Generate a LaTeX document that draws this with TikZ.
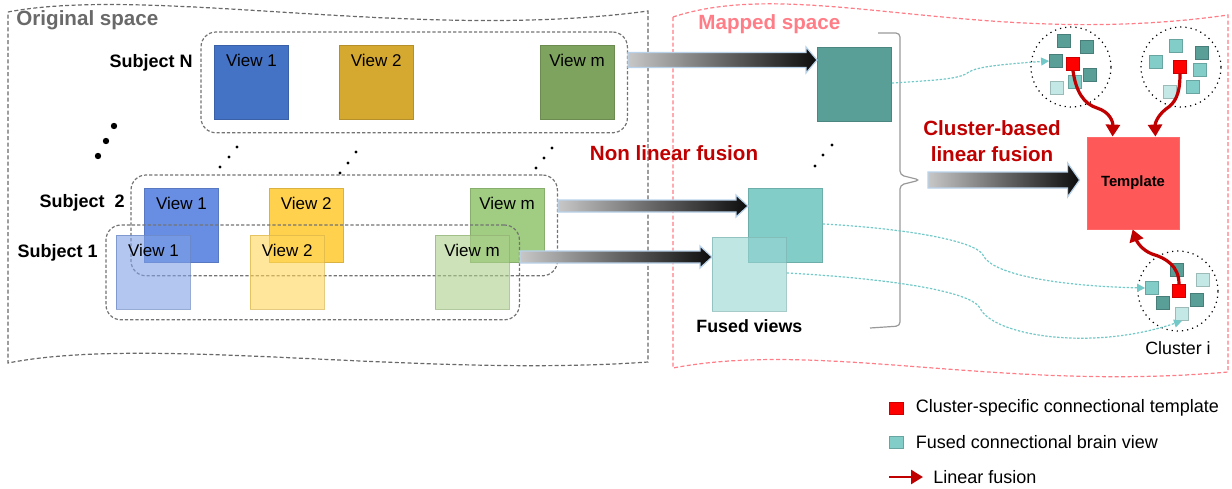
\documentclass[tikz,border=0pt]{standalone}
\usepackage{fontspec}
\setmainfont{Liberation Sans}
\usetikzlibrary{arrows.meta,positioning,fit,calc}
\definecolor{vblue}{RGB}{68,114,196}
\definecolor{vgold}{RGB}{213,168,48}
\definecolor{vgreen}{RGB}{126,163,94}
\definecolor{sblue}{RGB}{104,142,228}
\definecolor{sgold}{RGB}{255,209,77}
\definecolor{sgreen}{RGB}{160,205,130}
\definecolor{lblue}{RGB}{127,160,230}
\definecolor{lgold}{RGB}{255,213,88}
\definecolor{lgreen}{RGB}{172,207,138}
\definecolor{tdark}{RGB}{90,158,152}
\definecolor{tmid}{RGB}{130,205,200}
\definecolor{tlight}{RGB}{195,232,230}
\definecolor{tfuse}{RGB}{150,213,210}
\definecolor{tline}{RGB}{115,200,200}
\definecolor{tmplred}{RGB}{255,88,88}
\definecolor{dred}{RGB}{192,0,0}
\definecolor{mapred}{RGB}{255,125,135}
\definecolor{origgray}{RGB}{105,105,105}
\definecolor{arrline}{RGB}{185,210,235}
% shaded fat arrow: start, tip, half shaft, half head, head length
\newcommand{\garrow}[5]{%
  \shadedraw[garr] ($(#1)+(0,-#3)$) -- ($(#2)+(-#5,-#3)$) -- ($(#2)+(-#5,-#4)$) -- (#2)
    -- ($(#2)+(-#5,#4)$) -- ($(#2)+(-#5,#3)$) -- ($(#1)+(0,#3)$) -- cycle;}

\begin{document}
\begin{tikzpicture}[x=0.5pt, y=-0.5pt, font=\fontsize{8.5}{10}\selectfont,
  view/.style={draw=#1!85!black, fill=#1, minimum size=37pt, inner sep=0pt, anchor=north west},
  lview/.style={view=#1, fill opacity=0.6, draw opacity=0.7},
  vlab/.style={anchor=north, inner sep=0pt, yshift=-4.5pt, text opacity=1},
  grp/.style={draw=black!55, dash pattern=on 1.6pt off 1pt, line width=0.6pt, rounded corners=7.5pt, inner sep=6.5pt},
  subj/.style={font=\fontsize{9}{11}\selectfont\bfseries, anchor=east, inner sep=0pt},
  head/.style={font=\fontsize{10.3}{12}\selectfont\bfseries, inner sep=0pt},
  sq/.style={fill=#1, draw=#1!80!black, line width=0.4pt, minimum size=6.5pt, inner sep=0pt},
  clus/.style={circle, draw, dotted, line width=0.6pt, minimum size=40pt, inner sep=0pt},
  garr/.style={left color=black!22, right color=black!95, middle color=black!60, draw=arrline, line width=0.6pt},
  rarr/.style={draw=dred, line width=1.6pt, -{Triangle[length=6pt,width=7pt]}},
  dline/.style={draw=tline, line width=0.6pt, dash pattern=on 1.2pt off 0.8pt, -{Triangle[length=4pt,width=4pt]}},
  lgtxt/.style={font=\fontsize{9}{11}\selectfont, inner sep=0pt}]
\useasboundingbox (0,0) rectangle (1232,488);

% the two spaces
\draw[origgray, dash pattern=on 2pt off 1.2pt, line width=0.6pt] (8,12) .. controls (150,-15) and (420,42) .. (648,11)
  -- (648,362) .. controls (420,378) and (150,335) .. (8,363) -- cycle;
\draw[mapred, dash pattern=on 2pt off 1.2pt, line width=0.6pt] (673,17) .. controls (800,-25) and (980,50) .. (1228,15)
  -- (1228,372) .. controls (1000,392) and (820,340) .. (673,368) -- cycle;
\node[head, text=origgray, anchor=west] (orig) at (16,20) {Original space};
\node[head, text=mapred, anchor=west] (mapd) at (698,24) {Mapped space};

% subject N
\node[view=vblue, label={[vlab]north:View 1}] (vN1) at (214,45) {};
\node[view=vgold, label={[vlab]north:View 2}, right=25pt of vN1] (vN2) {};
\node[view=vgreen, label={[vlab]north:View m}, right=63pt of vN2] (vNm) {};
\node[grp, fit=(vN1)(vNm)] (grpN) {};
\node[subj] (sN) at (193,63) {Subject N};

% subject 2
\node[view=sblue, label={[vlab]north:View 1}] (v21) at (144,188) {};
\node[view=sgold, label={[vlab]north:View 2}, right=25pt of v21] (v22) {};
\node[view=sgreen, label={[vlab]north:View m}, right=63pt of v22] (v2m) {};
\node[grp, fit=(v21)(v2m)] (grp2) {};
\node[subj] (s2) at (125,203) {Subject\ \ 2};

% subject 1
\node[lview=lblue, label={[vlab]north:View 1}] (v11) at (116,235) {};
\node[lview=lgold, label={[vlab]north:View 2}, right=29.5pt of v11] (v12) {};
\node[lview=lgreen, label={[vlab]north:View m}, right=55pt of v12] (v1m) {};
\node[grp, inner sep=5pt, fit=(v11)(v1m)] (grp1) {};
\node[subj] (s1) at (98,253) {Subject 1};

% dots
\foreach \x/\y in {114/126,106/141,98/156}
  \fill (\x,\y) circle (1.6pt);
\foreach \x/\y in {237/147,229/157,220/167, 356/152,348/163,340/173, 552/148,544/158,536/168, 832/145,823/155,815/166}
  \fill (\x,\y) circle (0.8pt);

% fused views
\node[view=tdark] (fN) at (817,47) {};
\node[view=tmid] (f2) at (748,188) {};
\node[lview=tfuse] (f1) at (712,237) {};
\node[font=\fontsize{8.9}{10}\selectfont\bfseries, inner sep=0pt, below=3.8pt of f1] (fv) {Fused views};

% non linear fusion arrows
\coordinate (aN0) at (grpN.east |- 0,60);
\coordinate (aN1) at (fN.west |- 0,60);
\coordinate (a20) at (grp2.east |- 0,206);
\coordinate (a21) at (f2.west |- 0,206);
\coordinate (a10) at (grp1.east |- 0,257);
\coordinate (a11) at (f1.west |- 0,257);
\garrow{aN0}{aN1}{7.5}{13}{11}
\garrow{a20}{a21}{6}{11}{12}
\garrow{a10}{a11}{6}{11}{12}
\node[head, text=dred] (nlf) at (674,153) {Non linear fusion};

% brace and template
\coordinate (brtip) at (920,180);
\draw[black!40, line width=0.6pt, rounded corners=2pt] (878,33) -- (900,33) -- (900,175) -- (brtip) -- (900,185) -- (900,326) -- (870,328);
\node[draw=tmplred!90!white, fill=tmplred, minimum size=46pt, inner sep=0pt, font=\fontsize{7.4}{9}\selectfont\bfseries] (tmpl) at (1133,183) {Template};
\coordinate (aT0) at ($(brtip)+(8,0)$);
\coordinate (aT1) at ($(tmpl.west |- brtip)+(-7,0)$);
\garrow{aT0}{aT1}{8}{17}{12}
\node[head, text=dred, align=center, font=\fontsize{10.3}{13}\selectfont\bfseries] (clf) at (992,141) {Cluster-based\\linear fusion};

% clusters
\node[clus] (clA) at (1071,67) {};
\node[clus] (clB) at (1181,67) {};
\node[clus] (clI) at (1178,291) {};
\node[font=\fontsize{8.9}{10}\selectfont, inner sep=0pt, below=4.8pt of clI] (cli) {Cluster i};
\foreach \n/\x/\y/\c in {a1/1064/41/tdark, a2/1087/47/tdark, a3/1056/61/tdark, aR/1073/64/red, a5/1090/75/tdark, a6/1057/88/tlight, a7/1075/82/tmid,
    b1/1176/46/tmid, b2/1202/53/tdark, b3/1156/62/tmid, bR/1180/67/red, b5/1200/70/tmid, b6/1170/92/tlight, b7/1193/87/tmid,
    i1/1177/270/tdark, i2/1203/280/tlight, i3/1152/288/tmid, iR/1179/291/red, i5/1163/303/tdark, i6/1197/300/tdark, i7/1182/314/tlight}
  \node[sq=\c] (c\n) at (\x,\y) {};

% fused views into clusters
\draw[dline] (fN.east |- 0,83) .. controls (940,80) and (955,79) .. (966,74) .. controls (972,68) and (990,65) .. (ca3.west);
\draw[dline] (f2.east |- 0,224) .. controls (900,228) and (975,240) .. (983,255) .. controls (992,275) and (1060,286) .. (ci3.west);
\draw[dline] (f1.east |- 0,273) .. controls (880,278) and (970,290) .. (980,308) .. controls (992,335) and (1090,352) .. (ci7.south);

% linear fusion into template
\draw[rarr] (caR.south) .. controls (1076,92) and (1084,104) .. (1097,108) .. controls (1110,112) and (1113,122) .. ($(tmpl.north west)+(26,0)$);
\draw[rarr] (cbR.south) .. controls (1180,95) and (1175,103) .. (1166,109) .. controls (1157,116) and (1155,124) .. ($(tmpl.north east)+(-24,0)$);
\draw[rarr] (ciR.north) .. controls (1179,266) and (1166,258) .. (1152,254) .. controls (1142,250) and (1137,242) .. ($(tmpl.south west)+(46,0)$);

% legend
\node[sq=red, minimum width=7pt, minimum height=6pt] (lg1) at (896,408) {};
\node[lgtxt, right=6pt of lg1] (lt1) {Cluster-specific connectional template};
\node[sq=tmid, minimum width=7pt, minimum height=6pt] (lg2) at (896,442) {};
\node[lgtxt, right=6pt of lg2] (lt2) {Fused connectional brain view};
\coordinate (la0) at (889,477);
\coordinate (la1) at (923,477);
\draw[rarr, line width=1.3pt] (la0) -- (la1);
\node[lgtxt, right=5pt of la1] (lt3) {Linear fusion};
\end{tikzpicture}
\end{document}
